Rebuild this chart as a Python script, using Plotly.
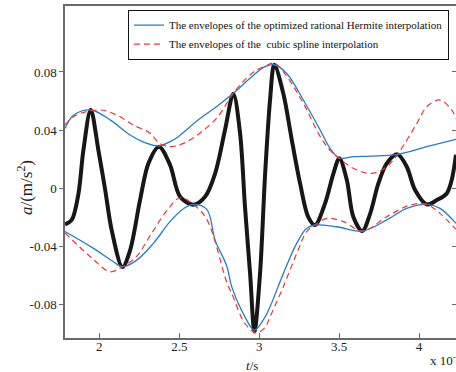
import plotly.graph_objects as go

# Measured acceleration signal (t in units of 1e-7 s)
t_sig = [1.785, 1.827, 1.869, 1.900, 1.946, 1.994, 2.036, 2.077, 2.144, 2.192,
         2.255, 2.307, 2.373, 2.442, 2.505, 2.588, 2.661, 2.724, 2.786, 2.838,
         2.880, 2.911, 2.943, 2.970, 3.005, 3.037, 3.068, 3.094, 3.151, 3.204,
         3.256, 3.307, 3.349, 3.412, 3.464, 3.501, 3.548, 3.589, 3.645, 3.693,
         3.745, 3.798, 3.865, 3.923, 3.975, 4.048, 4.111, 4.173, 4.204, 4.231]
a_sig = [-0.025, -0.022, -0.004, 0.026, 0.054, 0.026, -0.001, -0.029, -0.0545, -0.043,
         -0.008, 0.017, 0.0285, 0.016, -0.006, -0.0115, -0.006, 0.010, 0.040, 0.065,
         0.038, -0.013, -0.059, -0.099, -0.059, 0.010, 0.061, 0.085, 0.065, 0.033,
         0.003, -0.020, -0.0255, -0.0106, 0.010, 0.0205, 0.0055, -0.020, -0.0297, -0.018,
         0.003, 0.017, 0.0232, 0.0147, -0.0014, -0.0113, -0.0083, -0.0037, 0.0055, 0.023]

# Rational Hermite envelopes
t_herm_up = [1.785, 1.837, 1.946, 2.067, 2.192, 2.297, 2.373, 2.442, 2.494, 2.619,
             2.744, 2.838, 2.953, 3.037, 3.094, 3.172, 3.276, 3.381, 3.443, 3.501,
             3.589, 3.693, 3.865, 4.048, 4.231]
a_herm_up = [0.041, 0.050, 0.0538, 0.047, 0.0366, 0.0308, 0.029, 0.032, 0.0354, 0.047,
             0.057, 0.0653, 0.0768, 0.0837, 0.085, 0.079, 0.0607, 0.040, 0.0274, 0.0207,
             0.0216, 0.022, 0.0232, 0.0285, 0.0336]
t_herm_lo = [1.785, 1.963, 2.088, 2.144, 2.234, 2.339, 2.442, 2.530, 2.588, 2.672,
             2.724, 2.797, 2.828, 2.911, 2.970, 3.037, 3.068, 3.151, 3.235, 3.297,
             3.349, 3.485, 3.645, 3.798, 3.923, 4.048, 4.131, 4.231]
a_herm_lo = [-0.030, -0.0416, -0.0508, -0.0543, -0.0497, -0.038, -0.0232, -0.014, -0.0113, -0.0147,
             -0.0359, -0.0538, -0.068, -0.0888, -0.098, -0.0888, -0.0818, -0.0589, -0.038, -0.0278,
             -0.0255, -0.0267, -0.0297, -0.022, -0.014, -0.0113, -0.014, -0.0244]

# Cubic spline envelopes
t_spl_up = [1.785, 1.850, 2.004, 2.109, 2.213, 2.317, 2.373, 2.440, 2.526, 2.630,
            2.740, 2.838, 2.953, 3.037, 3.097, 3.172, 3.276, 3.381, 3.443, 3.501,
            3.589, 3.700, 3.790, 3.865, 3.986, 4.048, 4.131, 4.204, 4.231]
a_spl_up = [0.0435, 0.050, 0.0538, 0.0503, 0.0434, 0.0379, 0.031, 0.0285, 0.0308, 0.038,
            0.049, 0.0653, 0.079, 0.084, 0.086, 0.077, 0.0584, 0.0356, 0.026, 0.0205,
            0.0136, 0.0101, 0.014, 0.0232, 0.0446, 0.056, 0.0607, 0.0538, 0.048]
t_spl_lo = [1.785, 1.963, 2.067, 2.144, 2.234, 2.317, 2.420, 2.505, 2.588, 2.672,
            2.797, 2.828, 2.911, 2.982, 3.037, 3.068, 3.151, 3.235, 3.297, 3.349,
            3.423, 3.527, 3.645, 3.798, 3.944, 4.048, 4.131, 4.231]
a_spl_lo = [-0.031, -0.0492, -0.0577, -0.0543, -0.047, -0.033, -0.0159, -0.0067, -0.0113, -0.0216,
            -0.065, -0.0726, -0.0934, -0.0998, -0.096, -0.0887, -0.068, -0.045, -0.030, -0.0255,
            -0.0209, -0.0232, -0.0297, -0.0198, -0.0117, -0.0113, -0.0175, -0.0285]

x_ticks = [2, 2.5, 3, 3.5, 4]
x_tick_text = ["2", "2.5", "3", "3.5", "4"]
y_ticks = [-0.08, -0.04, 0, 0.04, 0.08]
y_tick_text = ["-0.08", "-0.04", "0", "0.04", "0.08"]

label_herm = "The envelopes of the optimized rational Hermite interpolation"
label_spl = "The envelopes of the  cubic spline interpolation"

BLUE = "#2a7bc0"
RED = "#e8393a"
SERIF = "Liberation Serif, Times New Roman, serif"

fig = go.Figure()

fig.add_trace(go.Scatter(x=t_sig, y=a_sig, mode="lines", showlegend=False,
                         line=dict(color="#171717", width=4, shape="spline", smoothing=0.9)))

fig.add_trace(go.Scatter(x=t_herm_up, y=a_herm_up, mode="lines", name=label_herm,
                         legendgroup="h",
                         line=dict(color=BLUE, width=1.3, shape="spline", smoothing=1)))
fig.add_trace(go.Scatter(x=t_herm_lo, y=a_herm_lo, mode="lines", name=label_herm,
                         legendgroup="h", showlegend=False,
                         line=dict(color=BLUE, width=1.3, shape="spline", smoothing=1)))
fig.add_trace(go.Scatter(x=t_spl_up, y=a_spl_up, mode="lines", name=label_spl,
                         legendgroup="s",
                         line=dict(color=RED, width=1.2, dash="6px,4px", shape="spline", smoothing=1)))
fig.add_trace(go.Scatter(x=t_spl_lo, y=a_spl_lo, mode="lines", name=label_spl,
                         legendgroup="s", showlegend=False,
                         line=dict(color=RED, width=1.2, dash="6px,4px", shape="spline", smoothing=1)))

# invisible trace bound to the right-hand axis so its inner ticks are drawn
fig.add_trace(go.Scatter(x=[t_sig[0]], y=[a_sig[0]], yaxis="y2", mode="markers",
                         marker=dict(opacity=0), showlegend=False, hoverinfo="skip"))

AXIS_COLOR = "#6a6a6a"
x_range = [1.785, 4.231]
y_range = [-0.1034, 0.1255]

fig.update_layout(
    width=456, height=372,
    margin=dict(l=65, r=0, t=6, b=34, autoexpand=False),
    paper_bgcolor="white", plot_bgcolor="white",
    font=dict(family=SERIF, size=12, color="#222222"),
    xaxis=dict(range=x_range, tickvals=x_ticks, ticktext=x_tick_text,
               ticks="inside", ticklen=5, tickcolor=AXIS_COLOR, tickwidth=1,
               showline=True, linecolor=AXIS_COLOR, linewidth=1.5, mirror=True,
               showgrid=False, zeroline=False, ticklabelstandoff=-4,
               tickfont=dict(family=SERIF, size=13, color="#222222")),
    yaxis=dict(range=y_range, tickvals=y_ticks, ticktext=y_tick_text,
               ticks="outside", ticklen=4, tickcolor=AXIS_COLOR, tickwidth=1,
               showline=True, linecolor=AXIS_COLOR, linewidth=1.5, mirror=True,
               showgrid=False, zeroline=False, ticklabelstandoff=0,
               tickfont=dict(family=SERIF, size=13, color="#222222")),
    yaxis2=dict(range=y_range, overlaying="y", side="right", tickvals=y_ticks,
                showticklabels=False, ticks="inside", ticklen=4, tickcolor=AXIS_COLOR,
                showline=False, showgrid=False, zeroline=False),
    legend=dict(x=0.161, y=0.989, xanchor="left", yanchor="top",
                bgcolor="white", bordercolor="#111111", borderwidth=1,
                font=dict(family=SERIF, size=11, color="#111111"),
                tracegroupgap=0, itemwidth=30),
    annotations=[
        dict(text="<i>a</i>/(m/s<sup>2</sup>)", xref="paper", yref="paper",
             x=-0.102, y=0.452, xanchor="center", yanchor="middle",
             textangle=-90, showarrow=False,
             font=dict(family=SERIF, size=17, color="#222222")),
        dict(text="<i>t</i>/s", xref="paper", yref="paper",
             x=0.478, y=-0.084, xanchor="center", yanchor="middle", showarrow=False,
             font=dict(family=SERIF, size=13, color="#222222")),
        dict(text="x 10<sup>-7</sup>", xref="paper", yref="paper",
             x=0.928, y=-0.066, xanchor="left", yanchor="middle", showarrow=False,
             font=dict(family=SERIF, size=13, color="#222222")),
    ],
)

fig.write_html("out.html")
